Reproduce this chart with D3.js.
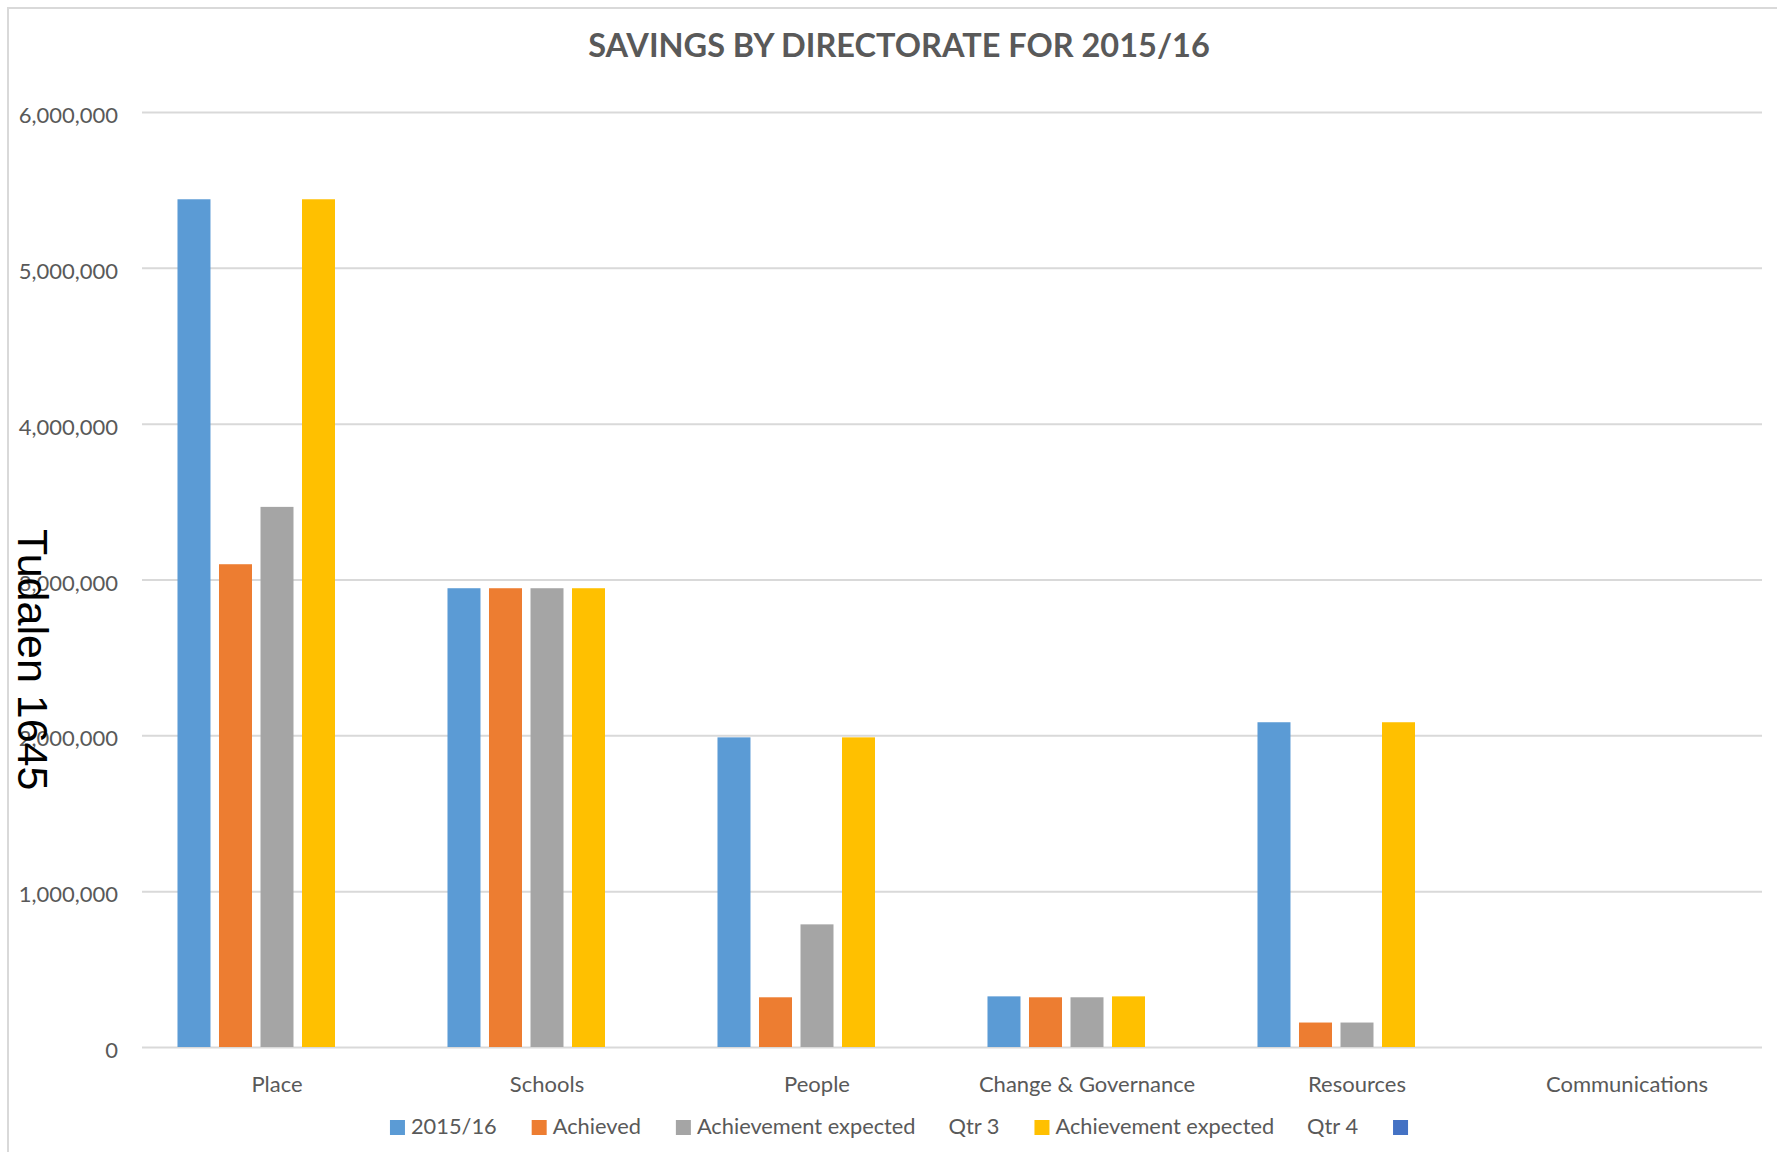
<!DOCTYPE html>
<meta charset="utf-8">
<style>
body { margin: 0; background: #fff; }
svg text { font-family: Lato, "Open Sans", sans-serif; fill: #595959; }
.title { font-size: 32.5px; font-weight: bold; text-anchor: middle; }
.axis text { font-size: 22px; fill: #595959; font-family: Lato, sans-serif; }
.axis .tick line { stroke: #d9d9d9; stroke-width: 2px; }
.legend text { font-size: 21.8px; }
.stamp { font-family: "Liberation Sans", Arial, sans-serif; font-size: 43px; fill: #000; }
</style>
<svg width="1777" height="1152"></svg>
<script src="https://d3js.org/d3.v7.min.js"></script>
<script>

var categories = ["Place", "Schools", "People", "Change & Governance", "Resources", "Communications"];
var seriesNames = [["2015/16"], ["Achieved"], ["Achievement expected", "Qtr 3"], ["Achievement expected", "Qtr 4"], [""]];
var budget     = [5440000, 2944000, 1987000, 325000, 2084000, 0];
var achieved   = [3098000, 2944000,  319000, 319000,  157000, 0];
var expectedQ3 = [3466000, 2944000,  787000, 319000,  157000, 0];
var expectedQ4 = [5440000, 2944000, 1987000, 325000, 2084000, 0];
var blankSeries = [0, 0, 0, 0, 0, 0];
var yTicks = [0, 1000000, 2000000, 3000000, 4000000, 5000000, 6000000];
var colors = ["#5B9BD5", "#ED7D31", "#A5A5A5", "#FFC000", "#4472C4"];

var allSeries = [budget, achieved, expectedQ3, expectedQ4, blankSeries];

var svg = d3.select("svg"),
    width = +svg.attr("width"),
    height = +svg.attr("height"),
    plotLeft = 142, plotRight = 1762, plotTop = 112, plotBottom = 1047,
    centre = 899;

// chart frame
svg.append("rect")
    .attr("x", 8).attr("y", 8)
    .attr("width", width + 20).attr("height", height + 20)
    .attr("fill", "#fff")
    .attr("stroke", "#d9d9d9")
    .attr("stroke-width", 2);

var x0 = d3.scaleBand()
    .domain(categories)
    .range([plotLeft, plotRight]);

var x1 = d3.scaleBand()
    .domain(d3.range(allSeries.length))
    .range([0, x0.bandwidth()])
    .paddingInner(0.205)
    .paddingOuter(0.855);

var y = d3.scaleLinear()
    .domain([0, 6000000])
    .range([plotBottom, plotTop]);

// y axis with gridlines
var yAxis = svg.append("g")
    .attr("class", "axis")
    .attr("transform", "translate(" + plotLeft + ",0)")
    .call(d3.axisLeft(y)
      .tickValues(yTicks)
      .tickSize(-(plotRight - plotLeft))
      .tickPadding(24)
      .tickFormat(d3.format(",")));
yAxis.select(".domain").remove();
yAxis.selectAll(".tick text").attr("dy", "0.48em");

// x axis labels
var xAxis = svg.append("g")
    .attr("class", "axis")
    .attr("transform", "translate(0," + plotBottom + ")")
    .call(d3.axisBottom(x0).tickSize(0).tickPadding(29));
xAxis.select(".domain").remove();

// bars
var groups = svg.append("g").selectAll("g")
    .data(categories)
  .enter().append("g")
    .attr("transform", function(d) { return "translate(" + x0(d) + ",0)"; });

groups.selectAll("rect")
    .data(function(d, i) {
      return allSeries.map(function(s, j) { return { series: j, value: s[i] }; });
    })
  .enter().append("rect")
    .attr("x", function(d) { return x1(d.series); })
    .attr("width", x1.bandwidth())
    .attr("y", function(d) { return y(d.value); })
    .attr("height", function(d) { return plotBottom - y(d.value); })
    .attr("fill", function(d) { return colors[d.series]; });

// title
svg.append("text")
    .attr("class", "title")
    .attr("x", centre)
    .attr("y", 57)
    .text("SAVINGS BY DIRECTORATE FOR 2015/16");

// legend
var legend = svg.append("g").attr("class", "legend");
var box = 15, boxGap = 6, itemGap = 35, partGap = 33, cx = 0;
seriesNames.forEach(function(parts, i) {
  var item = legend.append("g").attr("transform", "translate(" + cx + ",0)");
  item.append("rect")
      .attr("x", 0).attr("y", -14)
      .attr("width", box).attr("height", box)
      .attr("fill", colors[i]);
  var tx = box + boxGap;
  parts.forEach(function(p, k) {
    if (!p) return;
    var t = item.append("text").attr("x", tx).attr("y", 0).text(p);
    tx += t.node().getComputedTextLength();
    if (k < parts.length - 1) tx += partGap;
  });
  if (!parts[0]) tx = box;
  cx += tx + itemGap;
});
var legendWidth = cx - itemGap;
legend.attr("transform", "translate(" + (centre - legendWidth / 2) + ",1134)");

// page stamp
svg.append("text")
    .attr("class", "stamp")
    .attr("transform", "translate(18,529) rotate(90)")
    .text("Tudalen 1645");

</script>
